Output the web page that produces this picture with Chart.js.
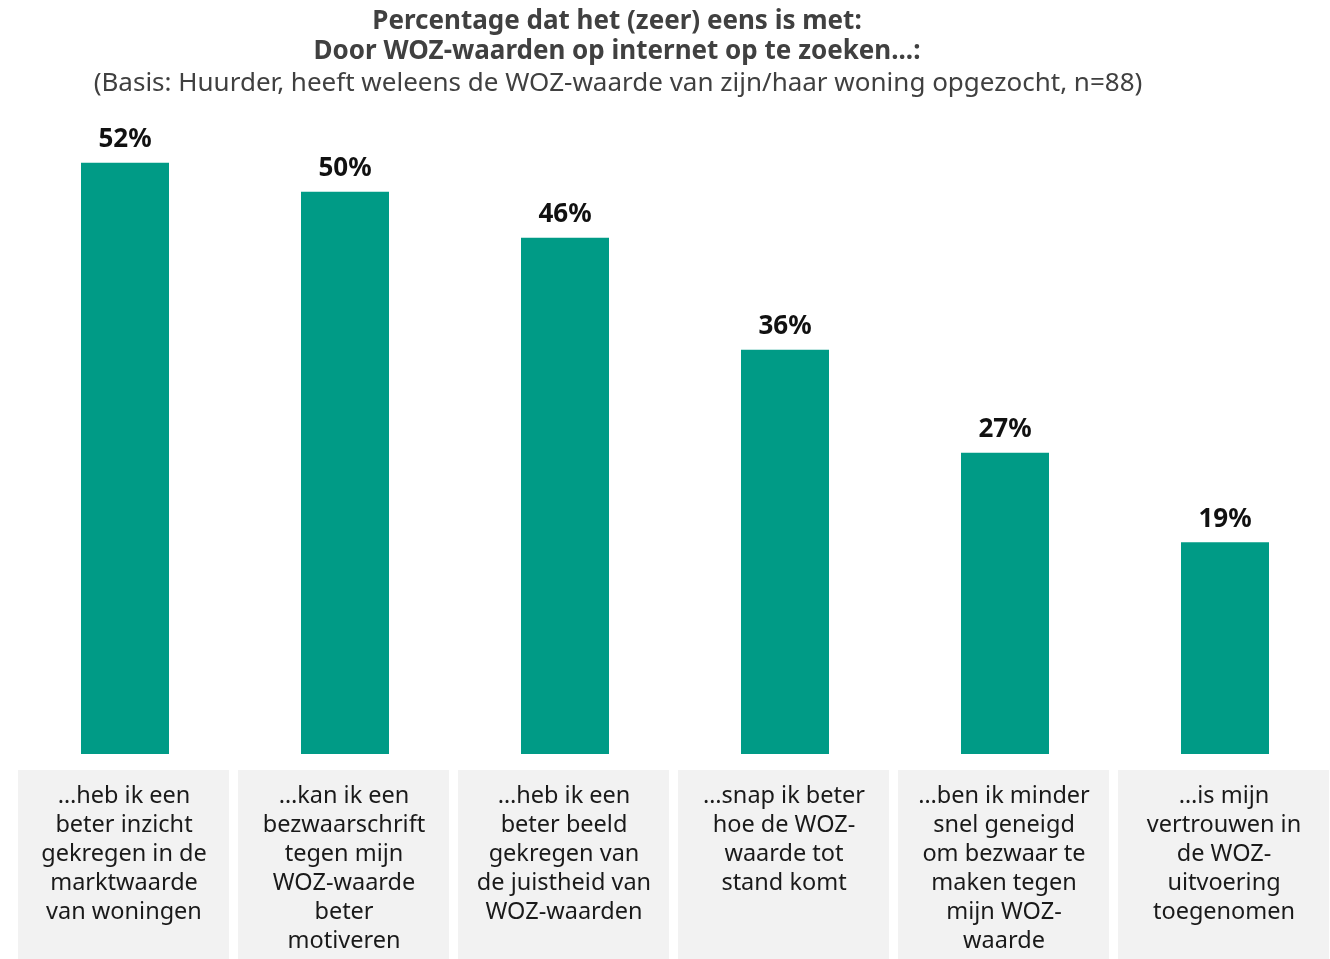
<!DOCTYPE html>
<html>
<head>
<meta charset="utf-8">
<script src="https://cdn.jsdelivr.net/npm/chart.js@4"></script>
<style>
  html, body { margin:0; padding:0; background:#fff; overflow:hidden; }
  #wrap { width:1340px; height:959px; }
</style>
</head>
<body>
<div id="wrap"><canvas id="c" width="1340" height="959"></canvas></div>
<script>
const titleLines = ["Percentage dat het (zeer) eens is met:", "Door WOZ-waarden op internet op te zoeken...:"];
const subtitleText = "(Basis: Huurder, heeft weleens de WOZ-waarde van zijn/haar woning opgezocht, n=88)";
const categories = [
  ["\u2026heb ik een", "beter inzicht", "gekregen in de", "marktwaarde", "van woningen"],
  ["\u2026kan ik een", "bezwaarschrift", "tegen mijn", "WOZ-waarde", "beter", "motiveren"],
  ["\u2026heb ik een", "beter beeld", "gekregen van", "de juistheid van", "WOZ-waarden"],
  ["\u2026snap ik beter", "hoe de WOZ-", "waarde tot", "stand komt"],
  ["\u2026ben ik minder", "snel geneigd", "om bezwaar te", "maken tegen", "mijn WOZ-", "waarde"],
  ["\u2026is mijn", "vertrouwen in", "de WOZ-", "uitvoering", "toegenomen"]
];
const values = [52.8, 50.2, 46.1, 36.1, 26.9, 18.9];
const valueLabels = ["52%", "50%", "46%", "36%", "27%", "19%"];

const BAR = '#009B86';
const FONT = '"Noto Sans", "Open Sans", sans-serif';

const overlay = {
  id: 'overlay',
  afterDraw(chart) {
    const ctx = chart.ctx;
    const xs = chart.scales.x;
    const meta = chart.getDatasetMeta(0);
    ctx.save();
    // titles
    ctx.textAlign = 'center';
    ctx.textBaseline = 'middle';
    ctx.fillStyle = '#404040';
    ctx.font = 'bold 26px ' + FONT;
    ctx.fillText(titleLines[0], 617, 22);
    ctx.fillText(titleLines[1], 617, 52);
    ctx.font = '26px ' + FONT;
    ctx.fillText(subtitleText, 618, 84);
    // value labels
    ctx.fillStyle = '#111';
    ctx.font = 'bold 26px ' + FONT;
    meta.data.forEach((bar, i) => {
      ctx.fillText(valueLabels[i], bar.x, bar.y - 23);
    });
    // category boxes
    const boxW = 211;
    const top = 770;
    categories.forEach((lines, i) => {
      const cx = xs.getPixelForValue(i);
      ctx.fillStyle = '#F2F2F2';
      ctx.fillRect(Math.round(cx - boxW / 2) - 2, top, boxW, chart.height - top);
      ctx.fillStyle = '#1a1a1a';
      ctx.font = '23.5px ' + FONT;
      lines.forEach((ln, j) => {
        ctx.fillText(ln, cx - 1, 796 + j * 29);
      });
    });
    ctx.restore();
  }
};

new Chart(document.getElementById('c'), {
  type: 'bar',
  data: {
    labels: categories,
    datasets: [{
      data: values,
      backgroundColor: BAR,
      borderWidth: 0,
      barPercentage: 0.4,
      categoryPercentage: 1.0
    }]
  },
  options: {
    responsive: false,
    animation: false,
    events: [],
    layout: { padding: { top: 138, bottom: 205, left: 15, right: 5 } },
    plugins: {
      legend: { display: false },
      title: { display: false },
      tooltip: { enabled: false }
    },
    scales: {
      x: { display: false },
      y: { display: false, min: 0, max: 55 }
    }
  },
  plugins: [overlay]
});
</script>
</body>
</html>
